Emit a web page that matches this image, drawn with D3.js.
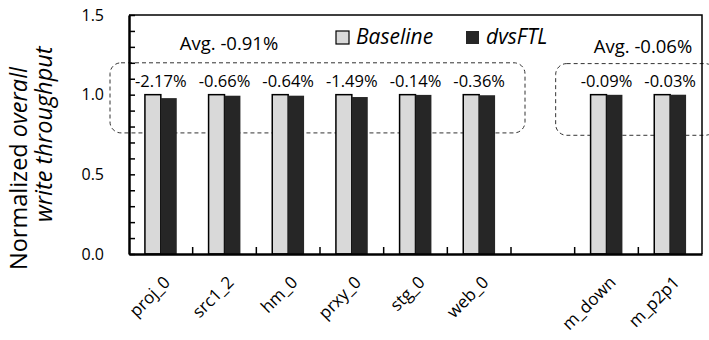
<html>
<script src="https://d3js.org/d3.v7.min.js"></script>
<head>
<style>
  body { margin: 0; background: #fff; }
  text { font-family: "Open Sans", Lato, sans-serif; fill: #000; }
</style>
</head>
<body onload='init()'>
<svg width=709 height=340></svg>
<script>
// data
var categories = ["proj_0", "src1_2", "hm_0", "prxy_0", "stg_0", "web_0", "gap", "m_down", "m_p2p1"];
var series = ["Baseline", "dvsFTL"];
var baseline = [1.0, 1.0, 1.0, 1.0, 1.0, 1.0, null, 1.0, 1.0];
var dvsftl = [0.9783, 0.9934, 0.9936, 0.9851, 0.9986, 0.9964, null, 0.9991, 0.9997];
var diffLabels = ["-2.17%", "-0.66%", "-0.64%", "-1.49%", "-0.14%", "-0.36%", null, "-0.09%", "-0.03%"];
var avgLabels = ["Avg. -0.91%", "Avg. -0.06%"];
var yTicks = [0.0, 0.5, 1.0, 1.5];

function init() {
  var svg = d3.select("svg");
  var left = 129, top = 15, right = 702, bottom = 254;

  var x0 = d3.scaleBand().domain(categories).range([left, right]).padding(0);
  var bw = x0.bandwidth();
  var x1 = d3.scaleBand().domain(series).range([bw * 0.25, bw * 0.75]).padding(0);
  var y = d3.scaleLinear().domain([0, 1.5]).range([bottom, top]);
  var colors = { "Baseline": "#d9d9d9", "dvsFTL": "#262626" };

  var rows = categories.map(function(c, i) {
    return { cat: c, Baseline: baseline[i], dvsFTL: dvsftl[i], label: diffLabels[i] };
  }).filter(function(d) { return d.Baseline != null; });

  // dashed group boxes
  var boxes = [
    { x: x0("proj_0") - 19, x2: x0("web_0") + bw + 14, y: y(1.2), y2: y(0.76) },
    { x: x0("m_down") - 19, x2: right + 14, y: y(1.195), y2: y(0.745) }
  ];
  svg.append("g").selectAll("rect").data(boxes).enter().append("rect")
    .attr("x", function(d) { return d.x; })
    .attr("y", function(d) { return d.y; })
    .attr("width", function(d) { return d.x2 - d.x; })
    .attr("height", function(d) { return d.y2 - d.y; })
    .attr("rx", 11).attr("ry", 11)
    .attr("fill", "none")
    .attr("stroke", "#333")
    .attr("stroke-width", 1)
    .attr("stroke-dasharray", "4,3");

  // bars
  var groups = svg.append("g").selectAll("g").data(rows).enter().append("g")
    .attr("transform", function(d) { return "translate(" + x0(d.cat) + ",0)"; });
  groups.selectAll("rect").data(function(d) {
      return series.map(function(s) { return { key: s, value: d[s] }; });
    }).enter().append("rect")
    .attr("x", function(d) { return x1(d.key); })
    .attr("y", function(d) { return y(d.value); })
    .attr("width", x1.bandwidth())
    .attr("height", function(d) { return y(0) - y(d.value); })
    .attr("fill", function(d) { return colors[d.key]; })
    .attr("stroke", function(d) { return d.key == "Baseline" ? "#000" : "none"; })
    .attr("stroke-width", 1.5);

  // percentage labels
  groups.append("text")
    .attr("x", bw / 2)
    .attr("y", function(d) { return y(1.0) - 8; })
    .attr("text-anchor", "middle")
    .style("font-size", "16.5px")
    .text(function(d) { return d.label; });

  // avg labels
  svg.append("text").attr("x", 229).attr("y", 50).attr("text-anchor", "middle")
    .style("font-size", "18.5px").text(avgLabels[0]);
  svg.append("text").attr("x", 643).attr("y", 53).attr("text-anchor", "middle")
    .style("font-size", "18.5px").text(avgLabels[1]);

  // frame
  svg.append("path")
    .attr("d", "M" + left + "," + top + "H" + right + "V" + bottom)
    .attr("fill", "none").attr("stroke", "#000").attr("stroke-width", 1.5);

  // y axis
  var yAxis = svg.append("g")
    .attr("transform", "translate(" + left + ",0)")
    .call(d3.axisLeft(y).tickValues(d3.range(0, 16).map(function(v) { return v / 10; }))
      .tickSize(-6).tickSizeOuter(0).tickPadding(0).tickFormat(""));
  yAxis.select(".domain").attr("stroke-width", 2.5);
  yAxis.selectAll(".tick line").attr("stroke-width", 1.5);

  svg.append("g").selectAll("text").data(yTicks).enter().append("text")
    .attr("x", 104)
    .attr("y", function(d) { return y(d); })
    .attr("dy", "0.36em")
    .attr("text-anchor", "end")
    .style("font-size", "16px")
    .text(d3.format(".1f"));

  // x axis
  var xAxis = svg.append("g")
    .attr("transform", "translate(0," + bottom + ")")
    .call(d3.axisBottom(x0).tickValues(categories.slice(1)).tickSize(-7).tickSizeOuter(0).tickFormat(""));
  xAxis.selectAll(".tick").attr("transform", function(d) { return "translate(" + x0(d) + ",0)"; });
  xAxis.select(".domain").attr("stroke-width", 2.5);
  xAxis.selectAll(".tick line").attr("stroke-width", 1.5);

  // category labels, rotated -45
  svg.append("g").selectAll("text").data(rows).enter().append("text")
    .attr("transform", function(d) {
      return "translate(" + (x0(d.cat) + bw / 2 + 2) + "," + (bottom + 21) + ") rotate(-45)";
    })
    .attr("text-anchor", "end")
    .attr("dy", "0.7em")
    .style("font-size", "17px")
    .text(function(d) { return d.cat; });

  // legend
  var legend = svg.append("g").selectAll("g").data(series).enter().append("g")
    .attr("transform", function(d, i) { return "translate(" + (i == 0 ? 336 : 466) + ",31)"; });
  legend.append("rect")
    .attr("width", 13).attr("height", 13)
    .attr("fill", function(d) { return colors[d]; })
    .attr("stroke", function(d) { return d == "Baseline" ? "#000" : "none"; })
    .attr("stroke-width", 1.2);
  legend.append("text")
    .attr("x", 20).attr("y", 13)
    .style("font-size", "21px").style("font-style", "italic")
    .text(function(d) { return d; });

  // y axis title
  var title = svg.append("text")
    .attr("transform", "translate(27,270) rotate(-90)")
    .style("font-size", "23.5px");
  title.append("tspan").text("Normalized ");
  title.append("tspan").style("font-style", "italic").text("overall");
  svg.append("text")
    .attr("transform", "translate(52,222) rotate(-90)")
    .style("font-size", "23.5px").style("font-style", "italic")
    .text("write throughput");
}
</script>
</body>
</html>
